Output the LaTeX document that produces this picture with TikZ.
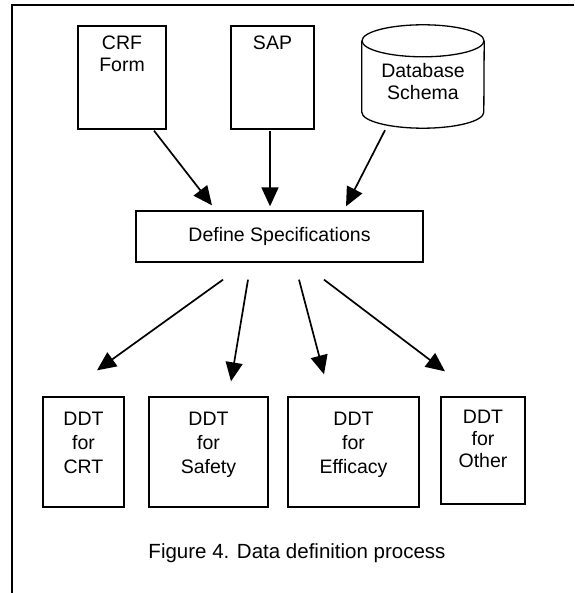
\documentclass[tikz,border=0pt]{standalone}
\usepackage{fontspec}
\setmainfont{Liberation Sans}
\usetikzlibrary{arrows.meta}
\begin{document}
\begin{tikzpicture}[x=1pt,y=1pt,
  box/.style={draw,line width=1.3pt,inner sep=0pt},
  txt/.style={align=center,inner sep=0pt,font=\fontsize{19.5}{24}\selectfont},
  arr/.style={-{Triangle[length=19pt,width=17pt]},line width=1.7pt}]
  \useasboundingbox (0,0) rectangle (574,-593);

  %frame
  \draw[line width=1.2pt] (12,-593) -- (12,-5) -- (574,-5);

  %sources
  \node[box,minimum width=88pt,minimum height=103pt] (crf) at (122,-77.5) {};
  \node[txt,anchor=base,font=\fontsize{19.5}{22}\selectfont] (crftxt) at ([yshift=-46pt]crf.north) {CRF\\Form};
  \node[box,minimum width=83pt,minimum height=103pt] (sap) at (272.5,-77.5) {};
  \node[txt,anchor=base] (saptxt) at ([yshift=-24pt]sap.north) {SAP};

  %cylinder
  \node[inner sep=0pt,minimum width=122pt,minimum height=103pt] (db) at (423,-76.5) {};
  \draw[line width=1.3pt] ([yshift=-16pt]db.north) ellipse [x radius=61,y radius=16];
  \draw[line width=1.3pt] ([yshift=-16pt]db.north west) -- ([yshift=16pt]db.south west)
    arc[start angle=180,end angle=360,x radius=61,y radius=16] -- ([yshift=-16pt]db.north east);
  \node[txt,anchor=base,font=\fontsize{19.5}{22}\selectfont] (dbtxt) at ([yshift=-75pt]db.north) {Database\\Schema};

  %middle
  \node[box,txt,minimum width=287pt,minimum height=51pt] (spec) at (279.5,-236.5) {Define Specifications};

  %targets
  \node[box,minimum width=81pt,minimum height=110pt] (crt) at (83.5,-452) {};
  \node[txt,anchor=base] (crttxt) at ([yshift=-77pt]crt.north) {DDT\\for\\CRT};
  \node[box,minimum width=119pt,minimum height=110pt] (safety) at (208.5,-452) {};
  \node[txt,anchor=base] (safetytxt) at ([yshift=-77pt]safety.north) {DDT\\for\\Safety};
  \node[box,minimum width=131pt,minimum height=110pt] (efficacy) at (353.5,-452) {};
  \node[txt,anchor=base] (efficacytxt) at ([yshift=-77pt]efficacy.north) {DDT\\for\\Efficacy};
  \node[box,minimum width=84pt,minimum height=107pt] (other) at (483,-450.5) {};
  \node[txt,anchor=base,font=\fontsize{19.5}{22}\selectfont] (othertxt) at ([yshift=-71pt]other.north) {DDT\\for\\Other};

  %arrows in
  \draw[arr] ([xshift=32pt,yshift=-1pt]crf.south) -- ([xshift=-67.5pt,yshift=5pt]spec.north);
  \draw[arr] ([xshift=-2.5pt,yshift=-1pt]sap.south) -- ([xshift=-9.5pt,yshift=4pt]spec.north);
  \draw[arr] ([xshift=-38pt,yshift=-2pt]db.south) -- ([xshift=66.5pt,yshift=4pt]spec.north);

  %arrows out
  \draw[arr] ([xshift=-56.5pt,yshift=-17pt]spec.south) -- ([xshift=13.5pt,yshift=26pt]crt.north);
  \draw[arr] ([xshift=-31.5pt,yshift=-17pt]spec.south) -- ([xshift=22.5pt,yshift=15pt]safety.north);
  \draw[arr] ([xshift=19.5pt,yshift=-17pt]spec.south) -- ([xshift=-29.5pt,yshift=22pt]efficacy.north);
  \draw[arr] ([xshift=44.5pt,yshift=-17pt]spec.south) -- ([xshift=-38pt,yshift=25pt]other.north);

  %caption
  \node[txt,anchor=base,font=\fontsize{20.5}{24}\selectfont] (cap) at (297,-558) {Figure 4. Data definition process};
\end{tikzpicture}
\end{document}
